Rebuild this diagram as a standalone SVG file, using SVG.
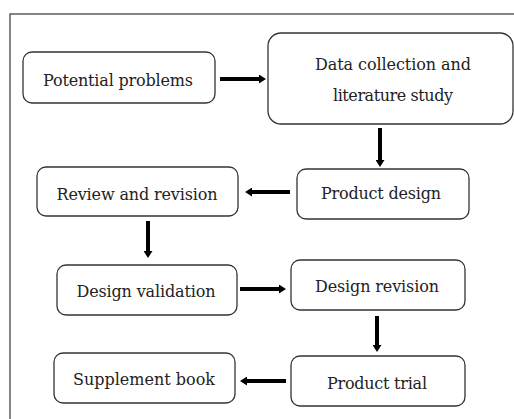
<svg xmlns="http://www.w3.org/2000/svg" width="514" height="419" viewBox="0 0 514 419">
<defs>
<style>
.box{fill:#fff;stroke:#333;stroke-width:1.3}
.t{font-family:"DejaVu Serif","Liberation Serif",serif;font-size:16px;fill:#222;text-anchor:middle}
.a{stroke:#000;stroke-width:4;fill:none}
</style>
<marker id="ah" markerUnits="userSpaceOnUse" markerWidth="7" markerHeight="9" refX="2" refY="4.5" orient="auto">
<path d="M0,0 L7,4.5 L0,9 z" fill="#000"/>
</marker>
</defs>
<rect x="10" y="14" width="530" height="430" fill="#fff" stroke="#444" stroke-width="1.3"/>
<g id="connectors">
<line class="a" x1="220" y1="79" x2="261" y2="79" marker-end="url(#ah)"/>
<line class="a" x1="380" y1="128" x2="380" y2="162" marker-end="url(#ah)"/>
<line class="a" x1="290" y1="192" x2="250" y2="192" marker-end="url(#ah)"/>
<line class="a" x1="148" y1="221" x2="148" y2="253" marker-end="url(#ah)"/>
<line class="a" x1="240" y1="289" x2="281" y2="289" marker-end="url(#ah)"/>
<line class="a" x1="377" y1="316" x2="377" y2="347" marker-end="url(#ah)"/>
<line class="a" x1="286" y1="381" x2="245" y2="381" marker-end="url(#ah)"/>
</g>
<g id="potential-problems">
<rect class="box" x="23" y="52" width="192" height="51" rx="9"/>
<text class="t" x="118" y="86" textLength="150">Potential problems</text>
</g>
<g id="data-collection">
<rect class="box" x="268" y="33" width="245" height="91" rx="13"/>
<text class="t" x="393" y="70" textLength="156">Data collection and</text>
<text class="t" x="393" y="101" textLength="120">literature study</text>
</g>
<g id="product-design">
<rect class="box" x="297" y="169" width="172" height="50" rx="9"/>
<text class="t" x="381" y="199" textLength="120">Product design</text>
</g>
<g id="review-revision">
<rect class="box" x="37" y="167" width="201" height="49" rx="9"/>
<text class="t" x="137" y="200" textLength="161">Review and revision</text>
</g>
<g id="design-validation">
<rect class="box" x="57" y="265" width="180" height="50" rx="9"/>
<text class="t" x="146" y="297" textLength="139">Design validation</text>
</g>
<g id="design-revision">
<rect class="box" x="291" y="260" width="174" height="50" rx="9"/>
<text class="t" x="377" y="292" textLength="124">Design revision</text>
</g>
<g id="supplement-book">
<rect class="box" x="54" y="353" width="181" height="50" rx="9"/>
<text class="t" x="144" y="385" textLength="142">Supplement book</text>
</g>
<g id="product-trial">
<rect class="box" x="291" y="356" width="174" height="50" rx="9"/>
<text class="t" x="377" y="389" textLength="100">Product trial</text>
</g>
</svg>
